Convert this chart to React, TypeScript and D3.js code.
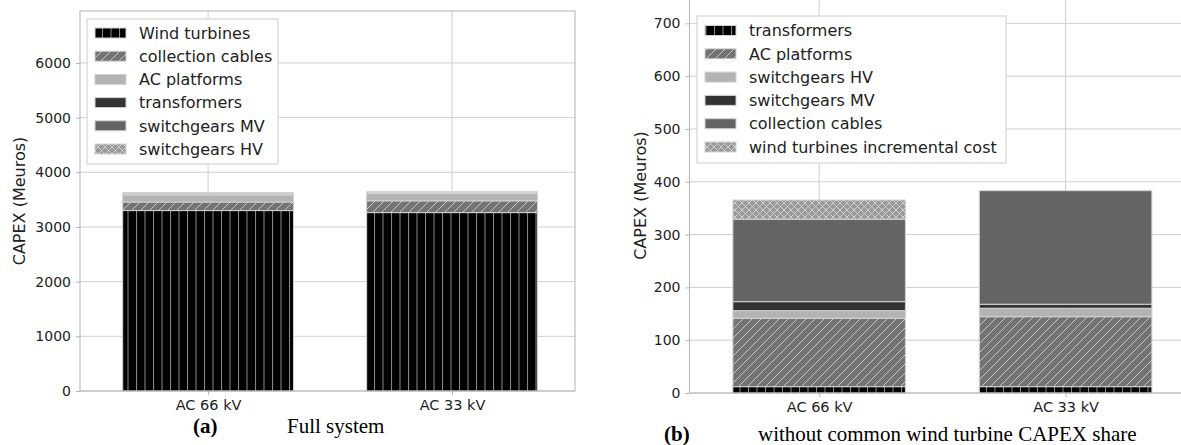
import React, { useRef, useEffect } from 'react';
import * as d3 from 'd3';

// categories on the x axis
const categories = ['AC 66 kV', 'AC 33 kV'];

// CAPEX per component (Meuros)
const windTurbines = [3300, 3263];
const collectionCables = [156, 215];
const acPlatforms = [129.5, 132.5];
const transformers = [12, 12];
const switchgearsMV = [17, 7.6];
const switchgearsHV = [14.5, 16];
const incrementalCost = [36.5, 0];

const fullTicks = [0, 1000, 2000, 3000, 4000, 5000, 6000];
const partTicks = [0, 100, 200, 300, 400, 500, 600, 700];

// fill per stack level (bottom to top), same in both panels
const fills = ['url(#vl)', 'url(#dg)', '#b3b3b3', '#333333', '#646464', 'url(#xh)'];

type Series = { name: string; values: number[] };

const drawPanel = (svg: any, o: any) => {
	const g = svg.append('g');
	const x = d3.scaleLinear().domain(o.xDomain).range([o.left, o.right]);
	const y = d3.scaleLinear().domain([0, o.yMax]).range([o.bottom, o.top]);

	// grid
	g.selectAll('.hg').data(o.ticks).join('line')
		.attr('x1', o.left).attr('x2', o.right)
		.attr('y1', (d: number) => y(d)).attr('y2', (d: number) => y(d))
		.attr('stroke', '#cfcfcf').attr('stroke-width', 1);
	g.selectAll('.vg').data(categories).join('line')
		.attr('x1', (d: string, i: number) => x(i)).attr('x2', (d: string, i: number) => x(i))
		.attr('y1', o.top).attr('y2', o.bottom)
		.attr('stroke', '#cfcfcf').attr('stroke-width', 1);

	// stacked bars
	const rows = categories.map((c, i) => {
		const r: any = { cat: c, idx: i };
		o.series.forEach((s: Series) => { r[s.name] = s.values[i]; });
		return r;
	});
	const stacked = d3.stack().keys(o.series.map((s: Series) => s.name))(rows);
	stacked.forEach((layer: any, k: number) => {
		g.selectAll('.b' + k).data(layer).join('rect')
			.attr('x', (d: any, i: number) => x(i - 0.35))
			.attr('width', (d: any, i: number) => x(i + 0.35) - x(i - 0.35))
			.attr('y', (d: any) => y(d[1]))
			.attr('height', (d: any) => y(d[0]) - y(d[1]))
			.attr('fill', fills[k])
			.attr('stroke', '#d2d2d2').attr('stroke-width', 1);
	});

	// frame
	g.append('rect')
		.attr('x', o.left).attr('y', o.top)
		.attr('width', o.right - o.left).attr('height', o.bottom - o.top)
		.attr('fill', 'none').attr('stroke', '#b4b4b4').attr('stroke-width', 1);

	// axes
	const ya = g.append('g').attr('transform', 'translate(' + o.left + ',0)')
		.call(d3.axisLeft(y).tickValues(o.ticks).tickSize(4).tickPadding(5).tickFormat(d3.format('d')));
	const xa = g.append('g').attr('transform', 'translate(0,' + o.bottom + ')')
		.call(d3.axisBottom(x).tickValues([0, 1]).tickSize(4).tickPadding(5)
			.tickFormat((d: any) => categories[d]));
	[ya, xa].forEach(a => {
		a.select('.domain').remove();
		a.selectAll('line').attr('stroke', '#b4b4b4');
		a.selectAll('text').attr('fill', '#222').attr('font-family', 'DejaVu Sans');
	});
	ya.selectAll('text').attr('font-size', 14);
	xa.selectAll('text').attr('font-size', 14.5);

	g.append('text')
		.attr('transform', 'translate(' + o.labelX + ',' + (o.top + o.bottom) / 2 + ') rotate(-90)')
		.attr('text-anchor', 'middle')
		.attr('font-family', 'DejaVu Sans').attr('font-size', 16).attr('fill', '#222')
		.text('CAPEX (Meuros)');

	// legend
	const lg = g.append('g');
	lg.append('rect')
		.attr('x', o.legend.x).attr('y', o.legend.y)
		.attr('width', o.legend.w).attr('height', o.legend.h)
		.attr('fill', '#fff').attr('stroke', '#cccccc').attr('stroke-width', 1);
	o.series.forEach((s: Series, k: number) => {
		const cy = o.legend.row0 + k * o.legend.step;
		lg.append('rect')
			.attr('x', o.legend.x + 8).attr('y', cy - 5)
			.attr('width', 31).attr('height', 10)
			.attr('fill', fills[k]).attr('stroke', '#d2d2d2').attr('stroke-width', 1);
		lg.append('text')
			.attr('x', o.legend.x + 52).attr('y', cy).attr('dy', '0.36em')
			.attr('font-family', 'DejaVu Sans').attr('font-size', 16).attr('fill', '#222')
			.text(s.name);
	});

	// caption
	const cap = g.append('text')
		.attr('y', o.capY)
		.attr('font-family', 'Liberation Serif').attr('font-size', 21).attr('fill', '#000');
	cap.append('tspan').attr('x', o.capX).attr('font-weight', 'bold').text(o.capTag);
	cap.append('tspan').attr('x', o.capTextX).text(o.capText);
};

const App = () => {
	const ref = useRef<SVGSVGElement>(null);

	useEffect(() => {
		const svg = d3.select(ref.current);
		svg.selectAll('*').remove();

		const defs = svg.append('defs');
		const vl = defs.append('pattern').attr('id', 'vl').attr('patternUnits', 'userSpaceOnUse')
			.attr('width', 8.5).attr('height', 10);
		vl.append('rect').attr('width', 8.5).attr('height', 10).attr('fill', '#000');
		vl.append('line').attr('x1', 0.5).attr('x2', 0.5).attr('y1', 0).attr('y2', 10)
			.attr('stroke', '#8c8c8c').attr('stroke-width', 1);

		const dg = defs.append('pattern').attr('id', 'dg').attr('patternUnits', 'userSpaceOnUse')
			.attr('width', 9).attr('height', 9);
		dg.append('rect').attr('width', 9).attr('height', 9).attr('fill', '#737373');
		dg.append('path').attr('d', 'M0,9L9,0M-2,2L2,-2M7,11L11,7')
			.attr('stroke', '#c4c4c4').attr('stroke-width', 1);

		const xh = defs.append('pattern').attr('id', 'xh').attr('patternUnits', 'userSpaceOnUse')
			.attr('width', 7).attr('height', 7);
		xh.append('rect').attr('width', 7).attr('height', 7).attr('fill', '#9a9a9a');
		xh.append('path').attr('d', 'M0,7L7,0M-2,2L2,-2M5,9L9,5M0,0L7,7M-2,5L2,9M5,-2L9,2')
			.attr('stroke', '#d0d0d0').attr('stroke-width', 1);

		drawPanel(svg, {
			left: 80, right: 575, top: 11, bottom: 391,
			xDomain: [-0.525, 1.504], yMax: 6950, ticks: fullTicks, labelX: 25,
			series: [
				{ name: 'Wind turbines', values: windTurbines },
				{ name: 'collection cables', values: collectionCables },
				{ name: 'AC platforms', values: acPlatforms },
				{ name: 'transformers', values: transformers },
				{ name: 'switchgears MV', values: switchgearsMV },
				{ name: 'switchgears HV', values: switchgearsHV },
			],
			legend: { x: 87, y: 19, w: 191, h: 145, row0: 33, step: 23.2 },
			capX: 193, capTextX: 287, capY: 433, capTag: '(a)', capText: 'Full system',
		});

		drawPanel(svg, {
			left: 689.5, right: 1195, top: -2, bottom: 393,
			xDomain: [-0.526, 1.525], yMax: 748, ticks: partTicks, labelX: 646,
			series: [
				{ name: 'transformers', values: transformers },
				{ name: 'AC platforms', values: acPlatforms },
				{ name: 'switchgears HV', values: switchgearsHV },
				{ name: 'switchgears MV', values: switchgearsMV },
				{ name: 'collection cables', values: collectionCables },
				{ name: 'wind turbines incremental cost', values: incrementalCost },
			],
			legend: { x: 697, y: 16, w: 309, h: 147, row0: 30.5, step: 23.3 },
			capX: 664, capTextX: 758, capY: 441, capTag: '(b)', capText: 'without common wind turbine CAPEX share',
		});
	}, []);

	return (
		<svg ref={ref} width={1181} height={445}
			style={{ position: 'absolute', left: 0, top: 0, background: '#fff' }} />
	);
};

export default App;
